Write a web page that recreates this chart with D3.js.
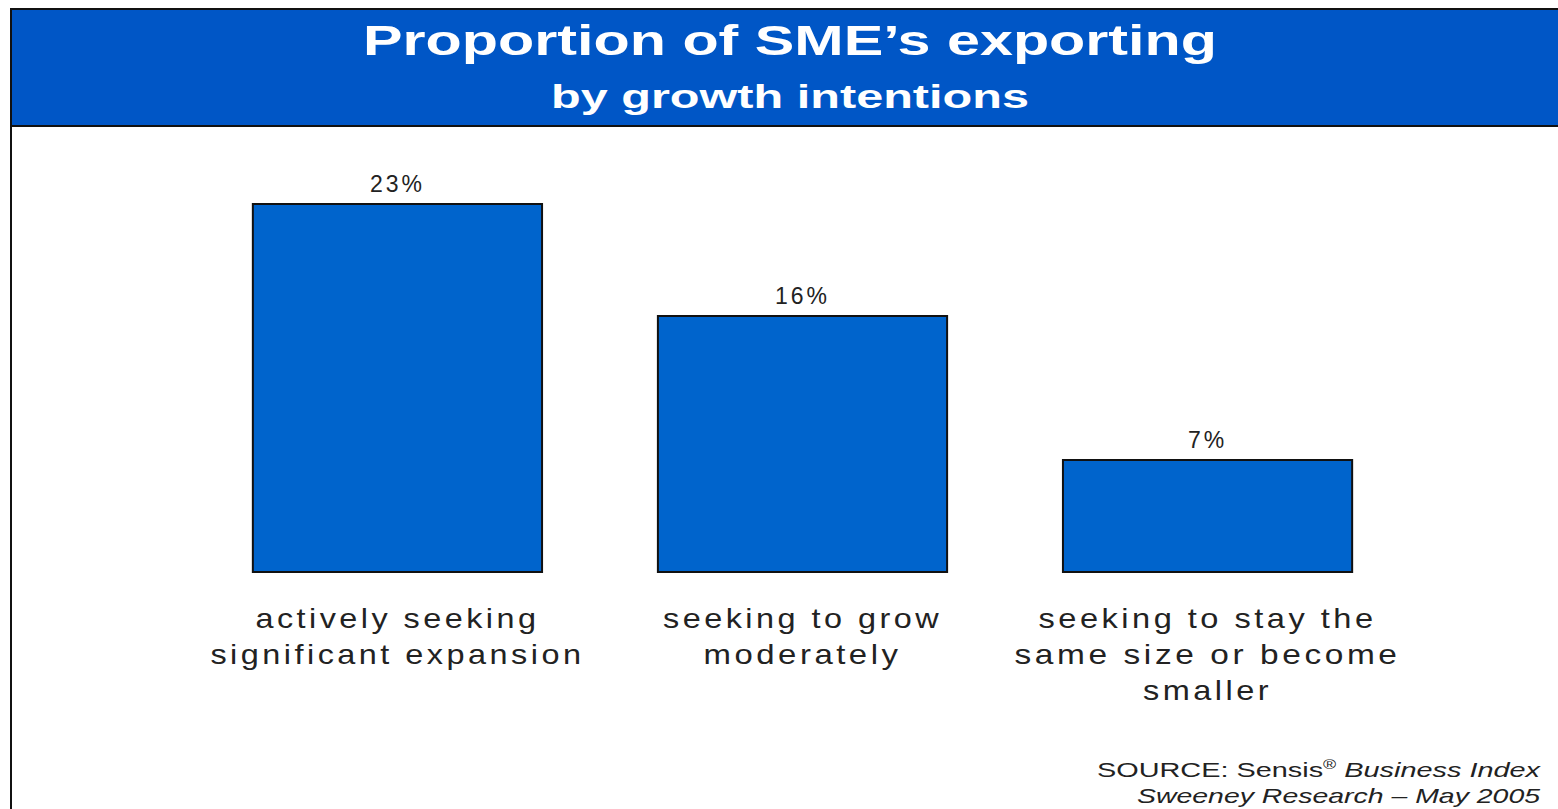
<!DOCTYPE html>
<html>
<head>
<meta charset="utf-8">
<script src="https://cdn.jsdelivr.net/npm/d3@7"></script>
<style>
  html, body { margin: 0; padding: 0; background: #fff; }
  svg { display: block; }
</style>
</head>
<body>
<svg id="chart" width="1558" height="809"></svg>
<script>
// Export share by growth intention (percent of SMEs)
const categories = [
  ["actively seeking", "significant expansion"],
  ["seeking to grow", "moderately"],
  ["seeking to stay the", "same size or become", "smaller"]
];
const values = [23, 16, 7];
const valueLabels = values.map(v => v + "%");
const titleLines = ["Proportion of SME\u2019s exporting", "by growth intentions"];

// Rendered line widths for the category labels
const catLineWidths = [[284, 374], [279, 198], [338, 386, 129]];

const W = 1558, H = 809;
const svg = d3.select("#chart");

// Frame and blue header band
svg.append("rect")
  .attr("x", 11).attr("y", 9).attr("width", W + 10).attr("height", 117)
  .attr("fill", "#0056C6").attr("stroke", "#111").attr("stroke-width", 2);
svg.append("line")
  .attr("x1", 11).attr("x2", 11).attr("y1", 8).attr("y2", H)
  .attr("stroke", "#111").attr("stroke-width", 2);

svg.append("text")
  .attr("x", 790).attr("y", 55)
  .attr("text-anchor", "middle")
  .attr("font-family", "Liberation Sans, Arial, sans-serif")
  .attr("font-weight", "bold").attr("font-size", 42)
  .attr("fill", "#fff")
  .attr("textLength", 854).attr("lengthAdjust", "spacingAndGlyphs")
  .text(titleLines[0]);
svg.append("text")
  .attr("x", 790).attr("y", 108)
  .attr("text-anchor", "middle")
  .attr("font-family", "Liberation Sans, Arial, sans-serif")
  .attr("font-weight", "bold").attr("font-size", 33)
  .attr("fill", "#fff")
  .attr("textLength", 478).attr("lengthAdjust", "spacingAndGlyphs")
  .text(titleLines[1]);

// Scales
const x = d3.scaleBand()
  .domain(d3.range(values.length))
  .range([137, 1468])
  .paddingInner(0.286).paddingOuter(0.286);
const y = d3.scaleLinear().domain([0, 23]).range([572, 204]);

// Bars
svg.append("g").selectAll("rect")
  .data(values)
  .join("rect")
  .attr("x", (d, i) => x(i))
  .attr("y", d => y(d))
  .attr("width", x.bandwidth())
  .attr("height", d => y(0) - y(d))
  .attr("fill", "#0064CC")
  .attr("stroke", "#111").attr("stroke-width", 2);

// Value labels
svg.append("g").selectAll("text")
  .data(values)
  .join("text")
  .attr("x", (d, i) => x(i) + x.bandwidth() / 2)
  .attr("y", d => y(d) - 12)
  .attr("text-anchor", "middle")
  .attr("font-family", "Liberation Sans, Arial, sans-serif")
  .attr("font-size", 23).attr("fill", "#222")
  .attr("letter-spacing", 3)
  .text((d, i) => valueLabels[i]);

// Category labels (multi-line, tracked)
const catG = svg.append("g");
categories.forEach((lines, i) => {
  lines.forEach((line, j) => {
    catG.append("text")
      .attr("x", x(i) + x.bandwidth() / 2)
      .attr("y", 628 + j * 36)
      .attr("text-anchor", "middle")
      .attr("font-family", "Liberation Sans, Arial, sans-serif")
      .attr("font-size", 28).attr("fill", "#222")
      .attr("letter-spacing", 3)
      .attr("textLength", catLineWidths[i][j]).attr("lengthAdjust", "spacingAndGlyphs")
      .text(line);
  });
});

// Source note
const src1 = svg.append("text")
  .attr("x", 1540).attr("y", 777)
  .attr("text-anchor", "end")
  .attr("font-family", "Liberation Sans, Arial, sans-serif")
  .attr("font-size", 21).attr("fill", "#222")
  .attr("textLength", 443).attr("lengthAdjust", "spacingAndGlyphs");
src1.append("tspan").text("SOURCE: Sensis");
src1.append("tspan").attr("font-size", 13).attr("dy", -8).text("\u00AE");
src1.append("tspan").attr("dy", 8).attr("font-style", "italic").text(" Business Index");

svg.append("text")
  .attr("x", 1540).attr("y", 803)
  .attr("text-anchor", "end")
  .attr("font-family", "Liberation Sans, Arial, sans-serif")
  .attr("font-size", 21).attr("font-style", "italic").attr("fill", "#222")
  .attr("textLength", 403).attr("lengthAdjust", "spacingAndGlyphs")
  .text("Sweeney Research \u2013 May 2005");
</script>
</body>
</html>
